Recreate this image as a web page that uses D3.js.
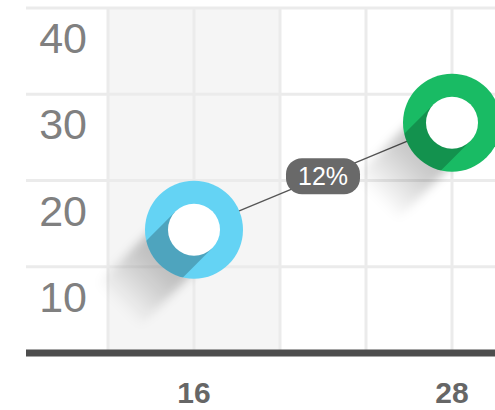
<!DOCTYPE html>
<html>
<head>
<meta charset="utf-8">
<script src="https://cdn.jsdelivr.net/npm/d3@7"></script>
<style>
  html, body { margin: 0; padding: 0; background: #ffffff; }
  svg { display: block; }
</style>
</head>
<body>
<svg id="chart" width="495" height="410"></svg>
<script>
// Two readings joined by a line, with the change between them labelled.
const xValues = [16, 28];
const yValues = [14.3, 26.7];
const pointColors = ["#64d3f4", "#19bb64"];
const xTickLabels = [16, 28];
const yTickLabels = [10, 20, 30, 40];
const xGridValues = [12, 16, 20, 24, 28];

const svg = d3.select("#chart");
const W = 495, H = 410;

const x = d3.scaleLinear().domain([12, 28]).range([108, 452]);
const y = d3.scaleLinear().domain([0, 40]).range([353, 8]);

const gridLeft = 26;
const rOuter = 49, rInner = 26;
const font = "'Liberation Sans', Arial, Helvetica, sans-serif";

const defs = svg.append("defs");
defs.append("filter").attr("id", "soft")
  .attr("x", "-50%").attr("y", "-50%").attr("width", "200%").attr("height", "200%")
  .append("feGaussianBlur").attr("stdDeviation", 5);

// shaded band behind the first two columns
svg.append("rect")
  .attr("x", x(12)).attr("y", y(40))
  .attr("width", x(20) - x(12)).attr("height", y(0) - y(40))
  .attr("fill", "#f5f5f5");

// grid
svg.append("g").selectAll("line").data(xGridValues).join("line")
  .attr("x1", d => x(d)).attr("x2", d => x(d))
  .attr("y1", y(40)).attr("y2", y(0))
  .attr("stroke", "#ebebeb").attr("stroke-width", 3);

svg.append("g").selectAll("line").data(yTickLabels).join("line")
  .attr("x1", gridLeft).attr("x2", W)
  .attr("y1", d => y(d)).attr("y2", d => y(d))
  .attr("stroke", "#ebebeb").attr("stroke-width", 3);

// y labels sit inside the band below each grid line
svg.append("g").selectAll("text").data(yTickLabels).join("text")
  .attr("x", 87).attr("y", d => y(d) + 45)
  .attr("text-anchor", "end")
  .attr("font-family", font).attr("font-size", 43)
  .attr("fill", "#808080")
  .text(d => d);

// baseline
svg.append("line")
  .attr("x1", gridLeft).attr("x2", W)
  .attr("y1", y(0)).attr("y2", y(0))
  .attr("stroke", "#4d4d4d").attr("stroke-width", 7);

// x labels
svg.append("g").selectAll("text").data(xTickLabels).join("text")
  .attr("x", d => x(d)).attr("y", 403)
  .attr("text-anchor", "middle")
  .attr("font-family", font).attr("font-size", 30).attr("font-weight", "bold")
  .attr("fill", "#666666")
  .text(d => d);

const pts = xValues.map((v, i) => ({ cx: x(v), cy: y(yValues[i]), color: pointColors[i], i }));

// connecting line
svg.append("line")
  .attr("x1", pts[0].cx).attr("y1", pts[0].cy)
  .attr("x2", pts[1].cx).attr("y2", pts[1].cy)
  .attr("stroke", "#555555").attr("stroke-width", 1.3);

// long shadow helpers: a band swept from the centre toward the lower left
const d = [-Math.SQRT1_2, Math.SQRT1_2];
const p = [Math.SQRT1_2, Math.SQRT1_2];
function band(cx, cy, half, len) {
  const pts2 = [
    [cx + half * p[0], cy + half * p[1]],
    [cx - half * p[0], cy - half * p[1]],
    [cx - half * p[0] + len * d[0], cy - half * p[1] + len * d[1]],
    [cx + half * p[0] + len * d[0], cy + half * p[1] + len * d[1]]
  ];
  return "M" + pts2.map(q => q.join(",")).join("L") + "Z";
}

pts.forEach(pt => {
  const g = svg.append("g");
  const shLen = 108;

  const grad = defs.append("linearGradient").attr("id", "sg" + pt.i)
    .attr("gradientUnits", "userSpaceOnUse")
    .attr("x1", pt.cx).attr("y1", pt.cy)
    .attr("x2", pt.cx + shLen * d[0]).attr("y2", pt.cy + shLen * d[1]);
  grad.append("stop").attr("offset", 0).attr("stop-color", "#000").attr("stop-opacity", 0.3);
  grad.append("stop").attr("offset", 0.5).attr("stop-color", "#000").attr("stop-opacity", 0.2);
  grad.append("stop").attr("offset", 1).attr("stop-color", "#000").attr("stop-opacity", 0);

  // soft cast shadow outside the ring
  g.append("path")
    .attr("d", band(pt.cx, pt.cy, rInner + 4, shLen))
    .attr("fill", `url(#sg${pt.i})`)
    .attr("filter", "url(#soft)");

  // ring
  g.append("circle")
    .attr("cx", pt.cx).attr("cy", pt.cy).attr("r", rOuter)
    .attr("fill", pt.color);

  // darker band on the ring cast by the hole
  defs.append("clipPath").attr("id", "cp" + pt.i)
    .append("circle").attr("cx", pt.cx).attr("cy", pt.cy).attr("r", rOuter);
  g.append("path")
    .attr("d", band(pt.cx, pt.cy, rInner, rOuter + 10))
    .attr("fill", "#000").attr("fill-opacity", 0.22)
    .attr("clip-path", `url(#cp${pt.i})`);

  // hole
  g.append("circle")
    .attr("cx", pt.cx).attr("cy", pt.cy).attr("r", rInner)
    .attr("fill", "#ffffff");
});

// change label at the midpoint of the segment
const change = Math.round(yValues[1] - yValues[0]);
const mx = (pts[0].cx + pts[1].cx) / 2, my = (pts[0].cy + pts[1].cy) / 2;
const pill = svg.append("g").attr("transform", `translate(${mx},${my})`);
pill.append("rect")
  .attr("x", -37).attr("y", -18).attr("width", 74).attr("height", 36)
  .attr("rx", 16).attr("fill", "#696969");
pill.append("text")
  .attr("text-anchor", "middle").attr("y", 9)
  .attr("font-family", font).attr("font-size", 25)
  .attr("fill", "#ffffff")
  .text(change + "%");
</script>
</body>
</html>
